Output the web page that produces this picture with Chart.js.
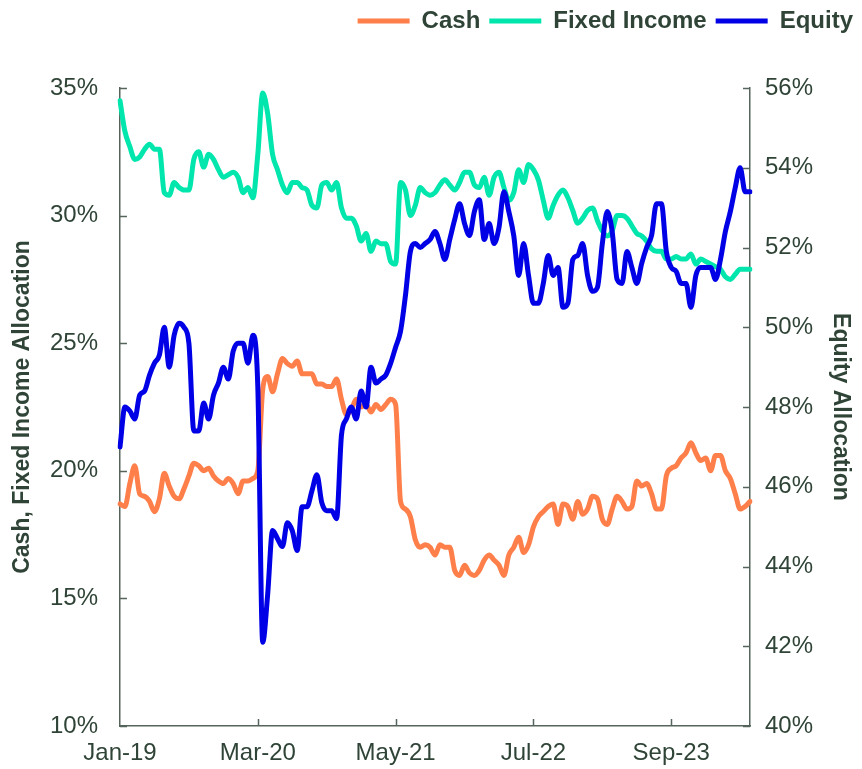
<!DOCTYPE html>
<html>
<head>
<meta charset="utf-8">
<script src="https://cdn.jsdelivr.net/npm/chart.js@4.4.1/dist/chart.umd.min.js"></script>
<style>
  body { margin: 0; background: #ffffff; }
  #wrap { width: 862px; height: 769px; }
</style>
</head>
<body>
<div id="wrap"><canvas id="allocChart" width="862" height="769"></canvas></div>
<script>
// half-month observations, Jan-19 .. Apr-24
const tickLabels = ['Jan-19', 'Mar-20', 'May-21', 'Jul-22', 'Sep-23'];
const monthNames = ['Jan','Feb','Mar','Apr','May','Jun','Jul','Aug','Sep','Oct','Nov','Dec'];

const cash = [
  18.7, 18.6, 19.5, 20.2, 19.1, 19.0, 18.8, 18.4, 18.9, 19.9,
  19.4, 19.0, 18.9, 19.3, 19.8, 20.3, 20.2, 20.0, 20.1, 19.8,
  19.6, 19.5, 19.7, 19.5, 19.1, 19.6, 19.6, 19.7, 20.0, 23.2,
  23.7, 23.1, 23.8, 24.4, 24.2, 24.1, 24.3, 23.8, 23.8, 23.8,
  23.4, 23.4, 23.3, 23.3, 23.6, 22.8, 22.2, 22.4, 22.8, 22.5,
  22.6, 22.3, 22.6, 22.4, 22.6, 22.8, 22.6, 18.8, 18.5, 18.2,
  17.3, 17.0, 17.1, 17.0, 16.7, 17.1, 17.0, 17.0, 16.1, 15.9,
  16.3, 16.0, 15.9, 16.1, 16.5, 16.7, 16.5, 16.3, 15.9, 16.7,
  17.0, 17.4, 16.8, 17.1, 17.8, 18.2, 18.4, 18.6, 18.7, 17.9,
  18.7, 18.6, 18.1, 18.8, 18.3, 18.5, 19.0, 18.9, 18.1, 17.9,
  18.5, 19.0, 18.8, 18.5, 18.6, 19.6, 19.4, 19.5, 19.1, 18.5,
  18.5, 19.8, 20.1, 20.2, 20.5, 20.7, 21.1, 20.7, 20.4, 20.5,
  20.0, 20.6, 20.6, 20.0, 19.7, 19.1, 18.5, 18.6, 18.8
];

const fixedIncome = [
  34.5, 33.3, 32.7, 32.2, 32.3, 32.6, 32.8, 32.6, 32.6, 30.9,
  30.8, 31.3, 31.1, 31.0, 31.0, 32.2, 32.5, 31.9, 32.4, 32.2,
  31.8, 31.5, 31.6, 31.7, 31.5, 30.9, 31.1, 30.7, 32.4, 34.8,
  34.0, 32.4, 31.8, 31.2, 30.9, 31.3, 31.3, 31.1, 31.0, 30.4,
  30.3, 31.2, 31.3, 31.0, 31.3, 30.3, 29.9, 29.9, 29.6, 29.0,
  29.3, 28.6, 29.0, 28.9, 28.9, 28.2, 28.1, 31.3, 31.0, 30.0,
  30.4, 31.1, 30.9, 30.8, 30.9, 31.2, 31.4, 31.2, 31.0, 31.3,
  31.7, 31.7, 31.2, 31.1, 31.5, 30.8, 31.5, 31.7, 31.1, 30.6,
  30.9, 31.8, 31.3, 32.0, 31.8, 31.4, 30.6, 29.9, 30.4, 30.8,
  31.0, 30.7, 30.2, 29.7, 29.9, 30.2, 30.3, 29.8, 29.4, 29.2,
  29.4, 30.0, 30.0, 29.9, 29.6, 29.3, 29.2, 29.0, 28.7, 28.6,
  28.6, 28.3, 28.3, 28.4, 28.3, 28.3, 28.5, 28.1, 28.3, 28.2,
  28.1, 28.0, 27.9, 27.6, 27.5, 27.7, 27.9, 27.9, 27.9
];

const equity = [
  47.0, 48.0, 47.9, 47.7, 48.3, 48.4, 48.8, 49.1, 49.3, 50.0,
  49.0, 49.8, 50.1, 50.0, 49.6, 47.4, 47.4, 48.1, 47.7, 48.3,
  48.6, 49.0, 48.7, 49.4, 49.6, 49.6, 49.1, 49.8, 48.5, 42.1,
  43.3, 44.9, 44.7, 44.5, 45.1, 44.9, 44.4, 45.5, 45.5, 45.9,
  46.3, 45.6, 45.4, 45.4, 45.2, 47.3, 47.7, 48.0, 47.7, 48.4,
  48.0, 49.0, 48.6, 48.7, 48.8, 49.1, 49.5, 49.9, 50.8, 51.9,
  52.1, 52.0, 52.1, 52.2, 52.4, 52.1, 51.7, 52.2, 52.7, 53.1,
  52.6, 52.3, 52.9, 53.2, 52.2, 52.6, 52.1, 52.5, 53.4, 52.9,
  52.3, 51.3, 52.1, 51.3, 50.6, 50.6, 51.1, 51.8, 51.3, 51.5,
  50.5, 50.6, 51.7, 51.8, 52.1, 51.3, 50.9, 51.0, 52.1, 52.9,
  52.4, 51.2, 51.1, 51.9, 51.5, 51.1, 51.6, 52.0, 52.3, 53.1,
  53.1, 51.9, 51.5, 51.4, 51.1, 51.1, 50.5, 51.3, 51.5, 51.5,
  51.5, 51.2, 51.7, 52.4, 52.9, 53.5, 54.0, 53.4, 53.4
];

const labels = [];
for (let i = 0; i < cash.length; i++) {
    const m = Math.floor(i / 2);
    labels.push(monthNames[m % 12] + '-' + (19 + Math.floor(m / 12)));
}

const textColor = '#2f4437';
const axisColor = '#56655b';
const font = 'Liberation Sans, Arial, sans-serif';

// tick marks on the inside of the axes
const innerTicks = {
    id: 'innerTicks',
    afterDraw(chart) {
        const ctx = chart.ctx;
        const area = chart.chartArea;
        const len = 7;
        ctx.save();
        ctx.strokeStyle = axisColor;
        ctx.lineWidth = 1.5;
        ctx.beginPath();
        chart.scales.y.ticks.forEach((t, i) => {
            const py = Math.round(chart.scales.y.getPixelForTick(i)) + 0.5;
            ctx.moveTo(area.left, py);
            ctx.lineTo(area.left + len, py);
        });
        chart.scales.y1.ticks.forEach((t, i) => {
            const py = Math.round(chart.scales.y1.getPixelForTick(i)) + 0.5;
            ctx.moveTo(area.right, py);
            ctx.lineTo(area.right - len, py);
        });
        chart.scales.x.ticks.forEach((t) => {
            if (t.value === 0) return;
            const px = Math.round(chart.scales.x.getPixelForValue(t.value)) + 0.5;
            ctx.moveTo(px, area.bottom);
            ctx.lineTo(px, area.bottom - len);
        });
        ctx.stroke();
        ctx.restore();
    }
};

const legendHeight = {
    id: 'legendHeight',
    beforeInit(chart) {
        const fit = chart.legend.fit;
        chart.legend.fit = function () {
            fit.bind(chart.legend)();
            this.height = 88;
        };
    }
};

const ctx = document.getElementById('allocChart').getContext('2d');
new Chart(ctx, {
    type: 'line',
    data: {
        labels: labels,
        datasets: [
            {
                label: 'Cash',
                data: cash,
                borderColor: '#ff7f4b',
                backgroundColor: '#ff7f4b',
                borderWidth: 5,
                yAxisID: 'y',
                order: 2
            },
            {
                label: 'Fixed Income',
                data: fixedIncome,
                borderColor: '#00e6ad',
                backgroundColor: '#00e6ad',
                borderWidth: 5,
                yAxisID: 'y',
                order: 1
            },
            {
                label: 'Equity',
                data: equity,
                borderColor: '#0000e6',
                backgroundColor: '#0000e6',
                borderWidth: 5,
                yAxisID: 'y1',
                order: 0
            }
        ]
    },
    options: {
        responsive: false,
        animation: false,
        devicePixelRatio: 1,
        layout: { padding: { top: 0, left: 0, right: 0, bottom: 0 } },
        elements: {
            point: { radius: 0 },
            line: {
                borderCapStyle: 'round',
                borderJoinStyle: 'round',
                cubicInterpolationMode: 'monotone'
            }
        },
        plugins: {
            tooltip: { enabled: false },
            legend: {
                position: 'top',
                align: 'end',
                labels: {
                    usePointStyle: true,
                    pointStyle: 'line',
                    pointStyleWidth: 52,
                    boxHeight: 24,
                    padding: 9,
                    color: textColor,
                    font: { family: font, size: 24, weight: 'bold' },
                    sort: (a, b) => a.datasetIndex - b.datasetIndex
                }
            }
        },
        scales: {
            x: {
                type: 'category',
                grid: { display: false, drawTicks: false },
                border: { display: true, color: axisColor, width: 1.5 },
                ticks: {
                    autoSkip: false,
                    maxRotation: 0,
                    padding: 13,
                    color: textColor,
                    font: { family: font, size: 24 },
                    callback: (v, i) => (i % 28 === 0 ? tickLabels[i / 28] : null)
                },
                afterFit: (s) => { s.height = 43; }
            },
            y: {
                position: 'left',
                min: 10,
                max: 35,
                grid: { display: false, drawTicks: false },
                border: { display: true, color: axisColor, width: 1.5 },
                ticks: {
                    stepSize: 5,
                    padding: 22,
                    color: textColor,
                    font: { family: font, size: 24 },
                    callback: (v) => v + '%'
                },
                title: {
                    display: true,
                    text: 'Cash, Fixed Income Allocation',
                    color: textColor,
                    padding: { top: 9, bottom: 0 },
                    font: { family: font, size: 23, weight: 'bold' }
                },
                afterFit: (s) => { s.width = 120; }
            },
            y1: {
                position: 'right',
                min: 40,
                max: 56,
                grid: { display: false, drawTicks: false },
                border: { display: true, color: axisColor, width: 1.5 },
                ticks: {
                    stepSize: 2,
                    padding: 15,
                    color: textColor,
                    font: { family: font, size: 24 },
                    callback: (v) => v + '%'
                },
                title: {
                    display: true,
                    text: 'Equity Allocation',
                    color: textColor,
                    padding: { top: 8, bottom: 0 },
                    font: { family: font, size: 23, weight: 'bold' }
                },
                afterFit: (s) => { s.width = 112; }
            }
        }
    },
    plugins: [innerTicks, legendHeight]
});
</script>
</body>
</html>
